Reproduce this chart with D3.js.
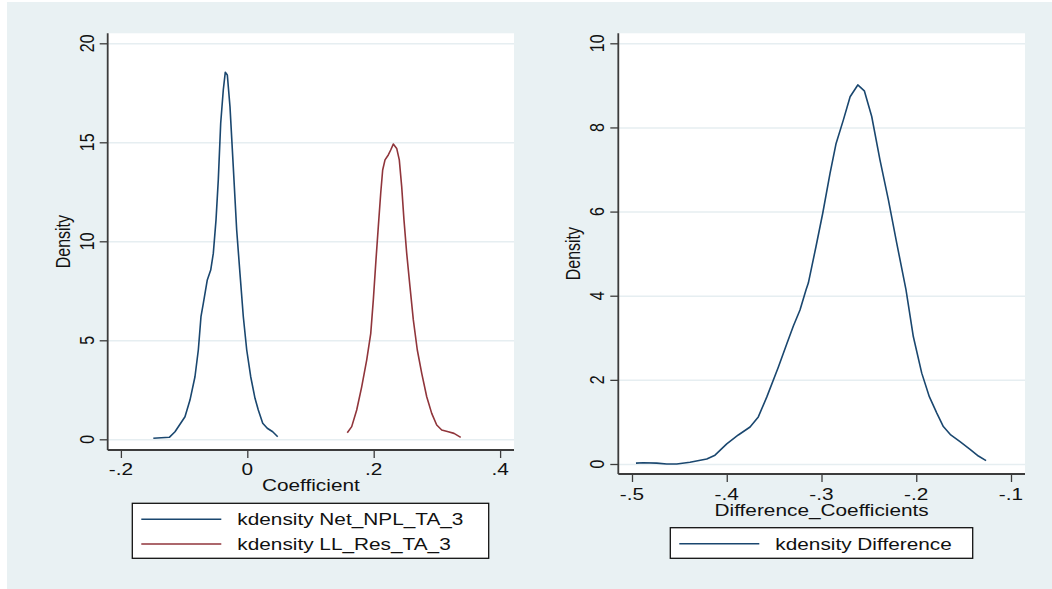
<!DOCTYPE html>
<html>
<head>
<meta charset="utf-8">
<script src="https://cdn.jsdelivr.net/npm/d3@7"></script>
<style>
  html, body { margin: 0; padding: 0; background: #fff; }
  svg { display: block; font-family: "Liberation Sans", Arial, sans-serif; }
</style>
</head>
<body>
<div id="chart"></div>
<script>
// kdensity of the two coefficients (left) and of their difference (right)

const NPL_X = [-0.1487,-0.1234,-0.1144,-0.0986,-0.0907,-0.0828,-0.0775,-0.0733,-0.0696,-0.0633,-0.0579,-0.0538,-0.0495,-0.0459,-0.0421,-0.0380,-0.0348,-0.0316,-0.0274,-0.0222,-0.0168,-0.0116,-0.0063,-0.0009,0.0054,0.0122,0.0174,0.0244,0.0316,0.0402,0.0481];
const NPL_Y = [0.05,0.10,0.38,1.14,1.98,3.16,4.51,6.19,6.87,8.05,8.55,9.39,11.08,13.10,15.96,17.64,18.54,18.40,16.80,13.77,10.57,8.38,6.19,4.51,3.16,2.07,1.48,0.81,0.56,0.38,0.13];

const LLR_X = [0.1582,0.1652,0.1731,0.1810,0.1889,0.1953,0.1994,0.2036,0.2073,0.2111,0.2142,0.2179,0.2231,0.2269,0.2310,0.2364,0.2405,0.2443,0.2479,0.2522,0.2574,0.2627,0.2690,0.2760,0.2839,0.2918,0.2997,0.3076,0.3180,0.3271,0.3377];
const LLR_Y = [0.33,0.64,1.48,2.65,4.00,5.34,7.04,9.06,10.74,12.43,13.60,14.11,14.36,14.61,14.91,14.69,14.11,12.76,11.08,9.40,7.71,6.03,4.51,3.33,2.15,1.31,0.72,0.47,0.38,0.30,0.10];

const DIFF_X = [-0.4958,-0.4881,-0.4739,-0.4634,-0.4528,-0.4388,-0.4211,-0.4124,-0.4000,-0.3878,-0.3754,-0.3667,-0.3578,-0.3456,-0.3367,-0.3297,-0.3227,-0.3163,-0.3139,-0.3058,-0.2987,-0.2910,-0.2846,-0.2769,-0.2698,-0.2617,-0.2548,-0.2470,-0.2383,-0.2294,-0.2206,-0.2108,-0.2031,-0.1942,-0.1862,-0.1783,-0.1714,-0.1636,-0.1538,-0.1432,-0.1344,-0.1263];
const DIFF_Y = [0.02,0.03,0.02,0.00,0.00,0.04,0.12,0.21,0.48,0.69,0.88,1.12,1.59,2.30,2.85,3.28,3.66,4.14,4.30,5.17,5.96,6.91,7.62,8.18,8.73,9.01,8.87,8.26,7.23,6.28,5.25,4.14,3.03,2.16,1.60,1.21,0.89,0.69,0.53,0.35,0.19,0.08];

const LEFT_XTICKS = [-0.2, 0, 0.2, 0.4];
const LEFT_YTICKS = [0, 5, 10, 15, 20];
const RIGHT_XTICKS = [-0.5, -0.4, -0.3, -0.2, -0.1];
const RIGHT_YTICKS = [0, 2, 4, 6, 8, 10];

const LEFT_LEGEND = ["kdensity Net_NPL_TA_3", "kdensity LL_Res_TA_3"];
const RIGHT_LEGEND = ["kdensity Difference"];

const NAVY = "#1a476f", MAROON = "#90353b";
const BG = "#e9f1f3", GRID = "#e6eef1", AXIS = "#3c3c3c";
const SX = 1.3;   // graph was stretched sideways, text with it

// stata style: -.2  0  .2
const stata = d => d === 0 ? "0" : d.toFixed(1).replace(/^(-?)0\./, "$1.");

const W = 1052, H = 589;
const svg = d3.select("#chart").append("svg").attr("width", W).attr("height", H);
svg.append("rect").attr("x", 7).attr("y", 2).attr("width", W - 7).attr("height", H - 2).attr("fill", BG);

function hText(g, x, y, s, anchor) {
  return g.append("text").attr("transform", `translate(${x},${y}) scale(${SX},1)`)
    .attr("text-anchor", anchor || "middle").attr("font-size", 16).attr("fill", "#111").text(s);
}
function vText(g, x, y, s) {
  return g.append("text").attr("transform", `translate(${x},${y}) rotate(-90) scale(1,${SX})`)
    .attr("text-anchor", "middle").attr("font-size", 16).attr("fill", "#111").text(s);
}

function panel(o) {
  const g = svg.append("g");
  const { box } = o;
  const x = d3.scaleLinear().domain(o.xd).range(o.xr);
  const y = d3.scaleLinear().domain(o.yd).range(o.yr);

  g.append("rect").attr("x", box.l).attr("y", box.t)
    .attr("width", box.r - box.l).attr("height", box.b - box.t).attr("fill", "#fff");

  // grid
  g.append("g").attr("transform", `translate(${box.l},0)`)
    .call(d3.axisLeft(y).tickValues(o.yticks).tickSize(-(box.r - box.l)).tickFormat(""))
    .call(ax => { ax.select(".domain").remove(); ax.selectAll("line").attr("stroke", GRID).attr("stroke-width", 1.5); });

  // axes
  g.append("g").attr("transform", `translate(${box.l},0)`)
    .call(d3.axisLeft(y).tickValues(o.yticks).tickSize(8).tickFormat(""))
    .call(ax => { ax.select(".domain").remove(); ax.selectAll("line").attr("stroke", AXIS).attr("stroke-width", 1.3); });
  g.append("g").attr("transform", `translate(0,${box.b})`)
    .call(d3.axisBottom(x).tickValues(o.xticks).tickSize(8).tickFormat(""))
    .call(ax => { ax.select(".domain").remove(); ax.selectAll("line").attr("stroke", AXIS).attr("stroke-width", 1.3); });
  g.append("line").attr("x1", box.l).attr("x2", box.l).attr("y1", box.t).attr("y2", box.b)
    .attr("stroke", AXIS).attr("stroke-width", 1.8);
  g.append("line").attr("x1", box.l).attr("x2", box.r).attr("y1", box.b).attr("y2", box.b)
    .attr("stroke", AXIS).attr("stroke-width", 1.8);

  o.yticks.forEach(t => vText(g, o.ylabX, y(t), String(t)));
  o.xticks.forEach(t => hText(g, x(t), o.xlabY, stata(t)));
  hText(g, (box.l + box.r) / 2, o.titleY, o.xtitle);
  vText(g, o.ytitleX, (box.t + box.b) / 2, "Density");

  const line = d3.line().x(d => x(d[0])).y(d => y(d[1]));
  o.series.forEach(s => {
    g.append("path").datum(d3.zip(s.xs, s.ys)).attr("d", line)
      .attr("fill", "none").attr("stroke", s.color).attr("stroke-width", 1.6)
      .attr("stroke-linejoin", "round");
  });

  // legend
  const L = o.legend;
  g.append("rect").attr("x", L.l).attr("y", L.t).attr("width", L.r - L.l).attr("height", L.b - L.t)
    .attr("fill", "#fff").attr("stroke", "#111").attr("stroke-width", 1.3);
  o.series.forEach((s, i) => {
    const ly = L.t + 16 + i * 24.7;
    g.append("line").attr("x1", L.l + 9).attr("x2", L.l + 89).attr("y1", ly).attr("y2", ly)
      .attr("stroke", s.color).attr("stroke-width", 1.6);
    hText(g, L.l + 105, ly + 5.8, s.name, "start");
  });
}

panel({
  box: { l: 107.7, r: 514, t: 33.3, b: 450 },
  xd: [0, 0.2], xr: [247.3, 373.7],
  yd: [0, 20], yr: [439.3, 43.3],
  xticks: LEFT_XTICKS, yticks: LEFT_YTICKS,
  ylabX: 93.5, xlabY: 475, titleY: 491, ytitleX: 70, xtitle: "Coefficient",
  series: [
    { xs: NPL_X, ys: NPL_Y, color: NAVY, name: LEFT_LEGEND[0] },
    { xs: LLR_X, ys: LLR_Y, color: MAROON, name: LEFT_LEGEND[1] },
  ],
  legend: { l: 132.3, r: 488.7, t: 503.3, b: 558.3 },
});

panel({
  box: { l: 618.3, r: 1025, t: 33.3, b: 474 },
  xd: [-0.5, -0.1], xr: [632, 1011],
  yd: [0, 10], yr: [464, 43.3],
  xticks: RIGHT_XTICKS, yticks: RIGHT_YTICKS,
  ylabX: 604.2, xlabY: 499.7, titleY: 516, ytitleX: 580, xtitle: "Difference_Coefficients",
  series: [{ xs: DIFF_X, ys: DIFF_Y, color: NAVY, name: RIGHT_LEGEND[0] }],
  legend: { l: 670.3, r: 972.7, t: 527.7, b: 558.3 },
});
</script>
</body>
</html>
